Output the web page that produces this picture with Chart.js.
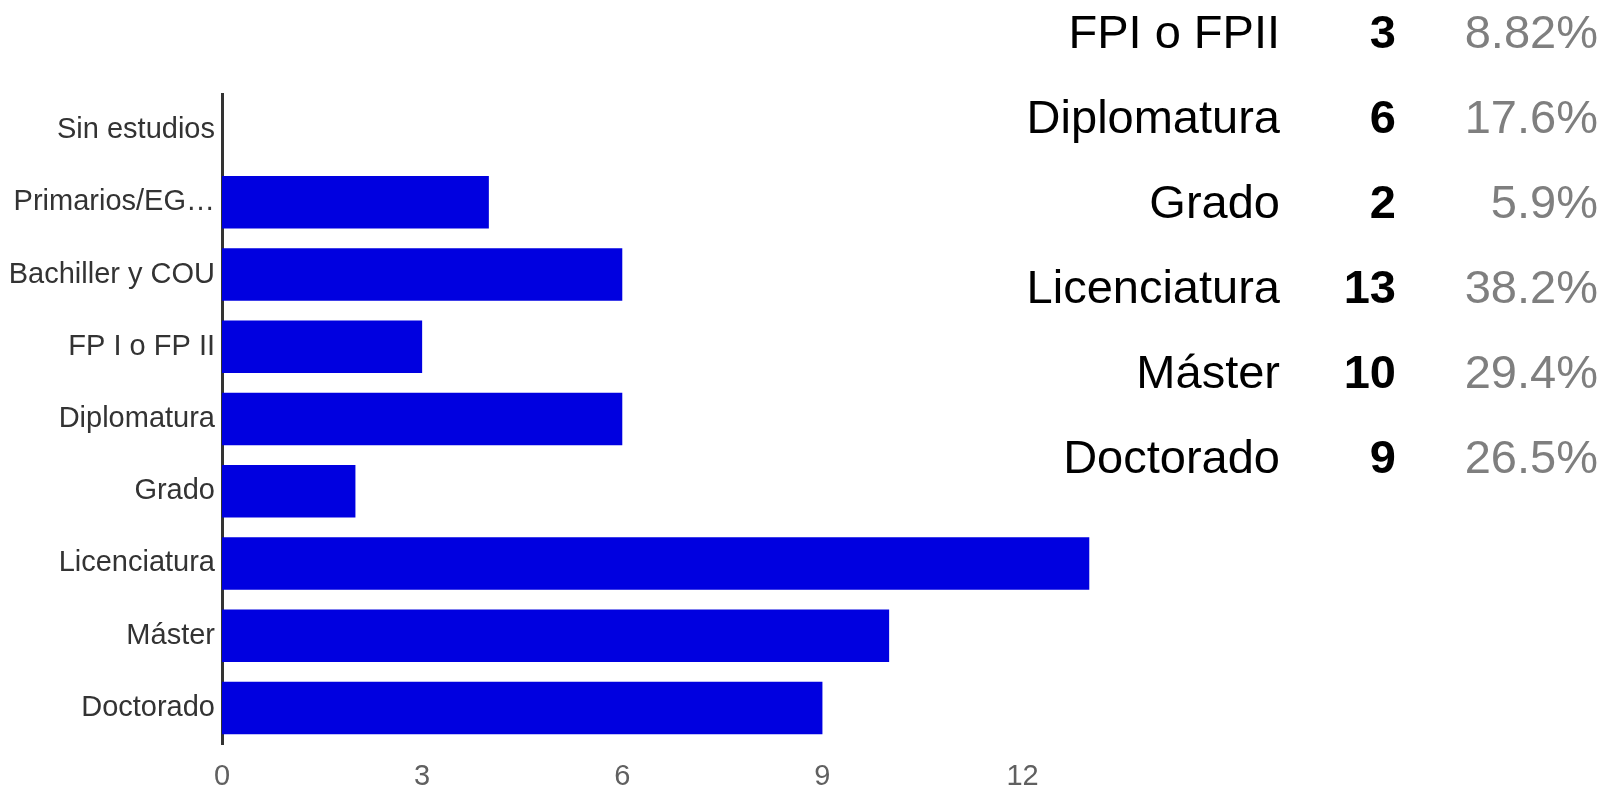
<!DOCTYPE html>
<html lang="es">

<head>
    <meta charset="utf-8">
    <title>Estudios</title>
    <script src="https://cdn.jsdelivr.net/npm/chart.js@4.4.1/dist/chart.umd.min.js"></script>
    <style>
        body {
            margin: 0;
            background: #ffffff;
            font-family: "Liberation Sans", Arial, sans-serif;
        }

        #wrap {
            position: relative;
            width: 1607px;
            height: 790px;
            overflow: hidden;
        }

        #myChart {
            position: absolute;
            left: 0;
            top: 0;
        }

        #tabla {
            position: absolute;
            top: -11px;
            left: 0;
            width: 1607px;
        }

        .fila {
            position: relative;
            height: 85px;
            line-height: 85px;
            font-size: 47px;
        }

        .fila span {
            position: absolute;
            top: 0;
            text-align: right;
            white-space: nowrap;
        }

        .nombre {
            right: 327px;
            color: #000000;
        }

        .cuenta {
            right: 211px;
            color: #000000;
            font-weight: bold;
        }

        .porcentaje {
            right: 9px;
            color: #7f7f7f;
        }
    </style>
</head>

<body>
    <div id="wrap">
        <canvas id="myChart" width="1607" height="790"></canvas>
        <div id="tabla"></div>
    </div>

    <script>
        // datos del grafico de barras
        const categorias = ['Sin estudios', 'Primarios/EG…', 'Bachiller y COU', 'FP I o FP II', 'Diplomatura',
            'Grado', 'Licenciatura', 'Máster', 'Doctorado']
        const respuestas = [0, 4, 6, 3, 6, 2, 13, 10, 9]
        const ticksX = [0, 3, 6, 9, 12]

        // datos de la tabla de la derecha
        const tablaNombres = ['FPI o FPII', 'Diplomatura', 'Grado', 'Licenciatura', 'Máster', 'Doctorado']
        const tablaCuentas = [3, 6, 2, 13, 10, 9]
        const tablaPorcentajes = ['8.82%', '17.6%', '5.9%', '38.2%', '29.4%', '26.5%']

        const fuente = '"Liberation Sans", Arial, sans-serif'

        function crear_tabla() {
            const tabla = document.getElementById('tabla')
            for (let i = 0; i < tablaNombres.length; i++) {
                const fila = document.createElement('div')
                fila.className = 'fila'

                const nombre = document.createElement('span')
                nombre.className = 'nombre'
                nombre.textContent = tablaNombres[i]

                const cuenta = document.createElement('span')
                cuenta.className = 'cuenta'
                cuenta.textContent = tablaCuentas[i]

                const porcentaje = document.createElement('span')
                porcentaje.className = 'porcentaje'
                porcentaje.textContent = tablaPorcentajes[i]

                fila.appendChild(nombre)
                fila.appendChild(cuenta)
                fila.appendChild(porcentaje)
                tabla.appendChild(fila)
            }
        }

        function crear_grafico() {
            const data = {
                labels: categorias,
                datasets: [{
                    label: 'Respuestas',
                    backgroundColor: '#0000e0',
                    borderColor: '#0000e0',
                    borderWidth: 0,
                    data: respuestas,
                    categoryPercentage: 1,
                    barPercentage: 0.727
                }]
            }

            const config = {
                type: 'bar',
                data: data,
                options: {
                    indexAxis: 'y',
                    responsive: false,
                    animation: false,
                    devicePixelRatio: 1,
                    layout: {
                        padding: { left: 0, top: 94, right: 451, bottom: 0 }
                    },
                    plugins: {
                        legend: { display: false },
                        tooltip: { enabled: false }
                    },
                    scales: {
                        x: {
                            min: 0,
                            max: 14,
                            grid: { display: false, drawTicks: false },
                            border: { display: false },
                            afterFit: (s) => { s.height = 46 },
                            afterBuildTicks: (s) => { s.ticks = ticksX.map(v => ({ value: v })) },
                            ticks: {
                                padding: 16,
                                color: '#606060',
                                font: { family: fuente, size: 29 }
                            }
                        },
                        y: {
                            grid: { display: false, drawTicks: false },
                            border: { display: true, color: '#333333', width: 3 },
                            afterFit: (s) => { s.width = 222 },
                            ticks: {
                                padding: 7,
                                color: '#333333',
                                autoSkip: false,
                                font: { family: fuente, size: 29 }
                            }
                        }
                    }
                }
            }

            new Chart(document.getElementById('myChart'), config)
        }

        crear_tabla()
        crear_grafico()
    </script>

</body>

</html>
